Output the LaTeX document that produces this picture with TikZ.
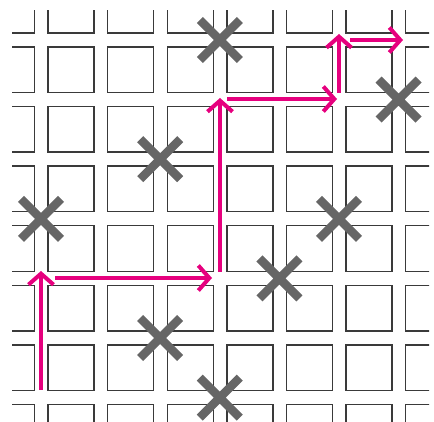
\documentclass[tikz,border=0pt]{standalone}
\usetikzlibrary{arrows.meta}
\definecolor{mag}{HTML}{E6007E}
\definecolor{crossgray}{HTML}{666666}
\definecolor{gridgray}{HTML}{3A3A3A}
\begin{document}
\begin{tikzpicture}[x=1pt,y=-1pt,
  cell/.style={draw=gridgray, line width=1.4pt},
  xmark/.style={draw=crossgray, line width=8.5pt},
  route/.style={draw=mag, line width=4pt, -{Straight Barb[sharp,length=11pt,width=25pt,line width=4pt]}}]
\useasboundingbox (0,0) rectangle (434,422);
\begin{scope}
\clip (12,11) rectangle (429,422);
\foreach \i in {-1,...,6} \foreach \j in {-1,...,6}
  \draw[cell] ({48+59.6*\i},{47+59.6*\j}) rectangle ++(46,45.5);
\end{scope}
% crosses at street intersections
\foreach \i/\j in {3/0,6/1,2/2,0/3,5/3,4/4,2/5,3/6}{
  \coordinate (c\i\j) at ({41+59.6*\i},{40+59.6*\j});
  \draw[xmark] (c\i\j) +(-20,-20) -- +(20,20) +(20,-20) -- +(-20,20);
}
% route
\coordinate (a0) at (41,390);
\coordinate (a1) at (41,271);
\coordinate (b0) at (55,278);
\coordinate (b1) at (212,278);
\coordinate (d0) at (220,272);
\coordinate (d1) at (220,98);
\coordinate (e0) at (227,99);
\coordinate (e1) at (337,99);
\coordinate (f0) at (339,93);
\coordinate (f1) at (339,34);
\coordinate (g0) at (350,40);
\coordinate (g1) at (403,40);
\draw[route] (a0) -- (a1);
\draw[route] (b0) -- (b1);
\draw[route] (d0) -- (d1);
\draw[route] (e0) -- (e1);
\draw[route] (f0) -- (f1);
\draw[route] (g0) -- (g1);
\end{tikzpicture}
\end{document}
